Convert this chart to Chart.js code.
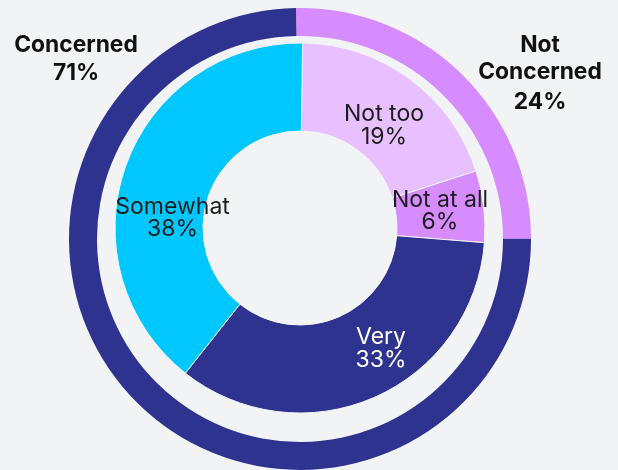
<!DOCTYPE html>
<html>
<head>
<meta charset="utf-8">
<script src="https://cdn.jsdelivr.net/npm/chart.js@4"></script>
<style>
  html, body { margin: 0; padding: 0; background: #f2f3f5; width: 618px; height: 470px; overflow: hidden; }
  canvas { position: absolute; left: 0; top: 0; }
</style>
</head>
<body>
<canvas id="outer" width="618" height="470"></canvas>
<canvas id="inner" width="618" height="470"></canvas>
<script>
// ---- data ----
const outerCategories = ['Not Concerned', 'Concerned'];
const outerValues = [24, 71];
const outerLabelLines = [['Not', 'Concerned'], ['Concerned']];

const innerCategories = ['Not too', 'Not at all', 'Very', 'Somewhat'];
const innerValues = [19, 6, 33, 38];

// ---- styles ----
const NAVY = '#2f3390';
const PURPLE = '#d68cff';
const LAVENDER = '#e9c0ff';
const CYAN = '#00c8ff';
const BG = '#f2f3f5';
const FONT = 'Inter, "DejaVu Sans", sans-serif';

const outerColors = [PURPLE, NAVY];
const innerColors = [LAVENDER, PURPLE, NAVY, CYAN];
const innerTextColors = ['#1c1c1c', '#1c1c1c', '#ffffff', '#1c1c1c'];

// label placement (style): outer labels positioned beside the ring
const outerLabelStyle = [
  { x: 540, baselines: [51.7, 78.5, 109] },
  { x: 76, baselines: [52, 80] }
];
// inner labels: fraction along arc angle, fraction across ring thickness
const innerLabelStyle = [
  { t: 0.536, f: 0.415 },
  { t: 0.467, f: 0.502 },
  { t: 0.414, f: 0.534 },
  { t: 0.399, f: 0.352 }
];

const outerLabelPlugin = {
  id: 'outerLabels',
  afterDraw(chart) {
    const ctx = chart.ctx;
    ctx.save();
    ctx.font = '700 22.8px ' + FONT;
    ctx.fillStyle = '#111111';
    ctx.textAlign = 'center';
    ctx.textBaseline = 'alphabetic';
    outerCategories.forEach((c, i) => {
      const lines = outerLabelLines[i].concat([outerValues[i] + '%']);
      const st = outerLabelStyle[i];
      lines.forEach((ln, j) => ctx.fillText(ln, st.x, st.baselines[j]));
    });
    ctx.restore();
  }
};

const innerLabelPlugin = {
  id: 'innerLabels',
  afterDraw(chart) {
    const ctx = chart.ctx;
    const meta = chart.getDatasetMeta(0);
    ctx.save();
    ctx.font = '400 23px ' + FONT;
    ctx.textAlign = 'center';
    ctx.textBaseline = 'alphabetic';
    const capH = 16.6;
    const lineGap = 22.5;
    meta.data.forEach((arc, i) => {
      const p = arc.getProps(['x', 'y', 'startAngle', 'endAngle', 'innerRadius', 'outerRadius'], true);
      const st = innerLabelStyle[i];
      const a = p.startAngle + st.t * (p.endAngle - p.startAngle);
      const r = p.innerRadius + st.f * (p.outerRadius - p.innerRadius);
      const cx = p.x + r * Math.cos(a);
      const cy = p.y + r * Math.sin(a);
      ctx.fillStyle = innerTextColors[i];
      ctx.fillText(innerCategories[i], cx, cy - lineGap / 2 + capH / 2);
      ctx.fillText(innerValues[i] + '%', cx, cy + lineGap / 2 + capH / 2);
    });
    ctx.restore();
  }
};

const common = {
  responsive: false,
  animation: false,
  events: [],
  plugins: { legend: { display: false }, tooltip: { enabled: false } }
};

new Chart(document.getElementById('outer'), {
  type: 'doughnut',
  data: {
    labels: outerCategories,
    datasets: [{ data: outerValues, backgroundColor: outerColors, borderWidth: 0 }]
  },
  options: Object.assign({}, common, {
    cutout: 203,
    rotation: -1,
    layout: { padding: { left: 69, right: 87, top: 8, bottom: 0 } }
  }),
  plugins: [outerLabelPlugin]
});

new Chart(document.getElementById('inner'), {
  type: 'doughnut',
  data: {
    labels: innerCategories,
    datasets: [{ data: innerValues, backgroundColor: innerColors, borderWidth: 1, borderColor: BG }]
  },
  options: Object.assign({}, common, {
    cutout: 97,
    rotation: 0.8,
    layout: { padding: { left: 114.5, right: 132.5, top: 42.5, bottom: 56.5 } }
  }),
  plugins: [innerLabelPlugin]
});
</script>
</body>
</html>
